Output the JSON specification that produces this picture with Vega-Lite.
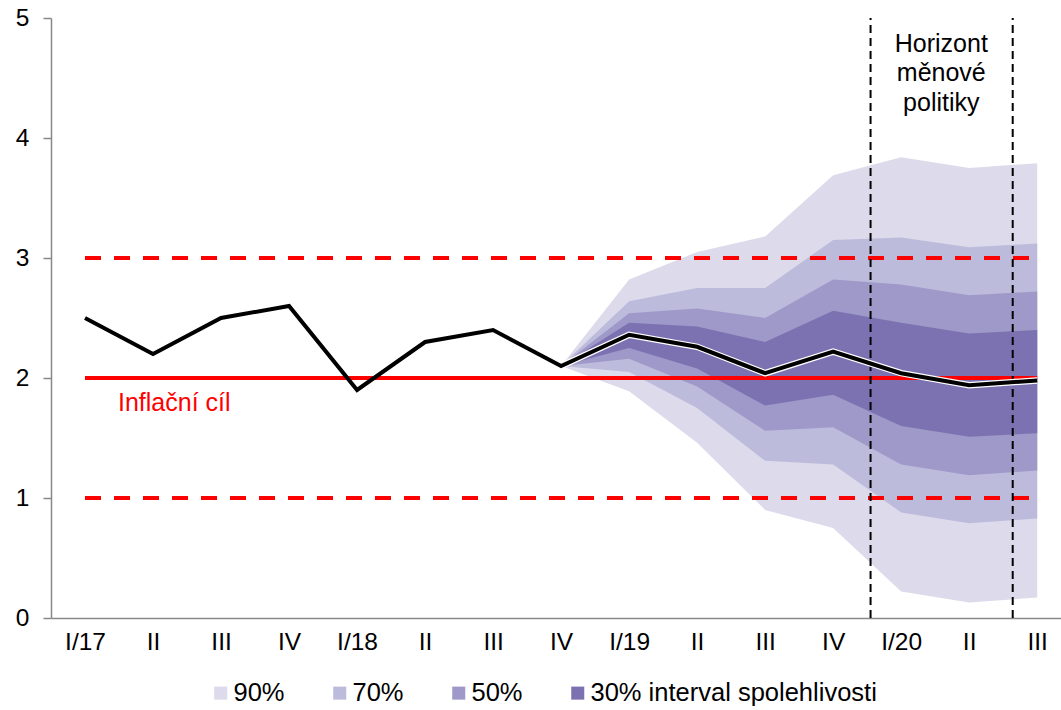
{
  "$schema": "https://vega.github.io/schema/vega-lite/v6.json",
  "width": 1010,
  "height": 600,
  "autosize": {"type": "none"},
  "padding": {"left": 51, "top": 18, "right": 0, "bottom": 92},
  "background": "white",
  "config": {
    "view": {"stroke": null},
    "font": "Liberation Sans",
    "axis": {"grid": false, "domainColor": "#888888", "domainWidth": 1.5, "labelColor": "black", "labelFontSize": 24.5, "labelFont": "Liberation Sans", "title": null}
  },
  "datasets": {
    "line": [
      {"i": 0, "v": 2.5}, {"i": 1, "v": 2.2}, {"i": 2, "v": 2.5}, {"i": 3, "v": 2.6},
      {"i": 4, "v": 1.9}, {"i": 5, "v": 2.3}, {"i": 6, "v": 2.4}, {"i": 7, "v": 2.1},
      {"i": 8, "v": 2.36}, {"i": 9, "v": 2.26}, {"i": 10, "v": 2.04}, {"i": 11, "v": 2.22},
      {"i": 12, "v": 2.04}, {"i": 13, "v": 1.94}, {"i": 14, "v": 1.98}
    ],
    "fan": [
      {"band": "90%", "i": 7, "lo": 2.1, "hi": 2.1},
      {"band": "90%", "i": 8, "lo": 1.89, "hi": 2.82},
      {"band": "90%", "i": 9, "lo": 1.46, "hi": 3.05},
      {"band": "90%", "i": 10, "lo": 0.9, "hi": 3.18},
      {"band": "90%", "i": 11, "lo": 0.75, "hi": 3.69},
      {"band": "90%", "i": 12, "lo": 0.22, "hi": 3.84},
      {"band": "90%", "i": 13, "lo": 0.13, "hi": 3.75},
      {"band": "90%", "i": 14, "lo": 0.17, "hi": 3.79},
      {"band": "70%", "i": 7, "lo": 2.1, "hi": 2.1},
      {"band": "70%", "i": 8, "lo": 2.05, "hi": 2.64},
      {"band": "70%", "i": 9, "lo": 1.75, "hi": 2.75},
      {"band": "70%", "i": 10, "lo": 1.31, "hi": 2.75},
      {"band": "70%", "i": 11, "lo": 1.28, "hi": 3.15},
      {"band": "70%", "i": 12, "lo": 0.88, "hi": 3.17},
      {"band": "70%", "i": 13, "lo": 0.79, "hi": 3.09},
      {"band": "70%", "i": 14, "lo": 0.83, "hi": 3.12},
      {"band": "50%", "i": 7, "lo": 2.1, "hi": 2.1},
      {"band": "50%", "i": 8, "lo": 2.16, "hi": 2.54},
      {"band": "50%", "i": 9, "lo": 1.93, "hi": 2.58},
      {"band": "50%", "i": 10, "lo": 1.56, "hi": 2.5},
      {"band": "50%", "i": 11, "lo": 1.59, "hi": 2.82},
      {"band": "50%", "i": 12, "lo": 1.28, "hi": 2.78},
      {"band": "50%", "i": 13, "lo": 1.19, "hi": 2.69},
      {"band": "50%", "i": 14, "lo": 1.23, "hi": 2.72},
      {"band": "30% interval spolehlivosti", "i": 7, "lo": 2.1, "hi": 2.1},
      {"band": "30% interval spolehlivosti", "i": 8, "lo": 2.25, "hi": 2.46},
      {"band": "30% interval spolehlivosti", "i": 9, "lo": 2.08, "hi": 2.43},
      {"band": "30% interval spolehlivosti", "i": 10, "lo": 1.77, "hi": 2.3},
      {"band": "30% interval spolehlivosti", "i": 11, "lo": 1.86, "hi": 2.56},
      {"band": "30% interval spolehlivosti", "i": 12, "lo": 1.6, "hi": 2.46},
      {"band": "30% interval spolehlivosti", "i": 13, "lo": 1.51, "hi": 2.37},
      {"band": "30% interval spolehlivosti", "i": 14, "lo": 1.54, "hi": 2.4}
    ]
  },
  "layer": [
    {
      "data": {"name": "fan"},
      "transform": [{"filter": "datum.band === '90%'"}],
      "mark": {"type": "area", "opacity": 1},
      "encoding": {
        "x": {"field": "i", "type": "quantitative", "scale": {"domain": [-0.5, 14.35], "nice": false, "zero": false},
              "axis": {"values": [0,1,2,3,4,5,6,7,8,9,10,11,12,13,14], "ticks": false, "labelPadding": 12,
                       "labelExpr": "['I/17','II','III','IV','I/18','II','III','IV','I/19','II','III','IV','I/20','II','III'][datum.value]"}},
        "y": {"field": "lo", "type": "quantitative", "scale": {"domain": [0, 5], "nice": false},
              "axis": {"values": [0,1,2,3,4,5], "format": "d", "tickSize": 8, "tickColor": "#888888", "tickWidth": 1.5, "labelPadding": 14}},
        "y2": {"field": "hi"},
        "color": {"field": "band", "type": "nominal",
                  "scale": {"domain": ["90%", "70%", "50%", "30% interval spolehlivosti"], "range": ["#dcdaeb", "#bcbbdc", "#9e99c8", "#7c72b2"]},
                  "legend": {"title": null, "orient": "none", "legendX": 157, "legendY": 662, "direction": "horizontal",
                             "symbolType": "square", "symbolSize": 170, "symbolStrokeWidth": 0, "labelFontSize": 25.5,
                             "labelColor": "black", "labelOffset": 0, "columnPadding": 42, "labelLimit": 400, "symbolOpacity": 1}}
      }
    },
    {
      "data": {"name": "fan"},
      "transform": [{"filter": "datum.band === '70%'"}],
      "mark": {"type": "area", "opacity": 1},
      "encoding": {
        "x": {"field": "i", "type": "quantitative"},
        "y": {"field": "lo", "type": "quantitative"},
        "y2": {"field": "hi"},
        "color": {"field": "band", "type": "nominal"}
      }
    },
    {
      "data": {"name": "fan"},
      "transform": [{"filter": "datum.band === '50%'"}],
      "mark": {"type": "area", "opacity": 1},
      "encoding": {
        "x": {"field": "i", "type": "quantitative"},
        "y": {"field": "lo", "type": "quantitative"},
        "y2": {"field": "hi"},
        "color": {"field": "band", "type": "nominal"}
      }
    },
    {
      "data": {"name": "fan"},
      "transform": [{"filter": "datum.band === '30% interval spolehlivosti'"}],
      "mark": {"type": "area", "opacity": 1},
      "encoding": {
        "x": {"field": "i", "type": "quantitative"},
        "y": {"field": "lo", "type": "quantitative"},
        "y2": {"field": "hi"},
        "color": {"field": "band", "type": "nominal"}
      }
    },
    {
      "data": {"values": [{"y": 1, "x0": 0, "x1": 14}, {"y": 3, "x0": 0, "x1": 14}]},
      "mark": {"type": "rule", "color": "#ff0000", "strokeWidth": 4, "strokeDash": [16, 13]},
      "encoding": {
        "x": {"field": "x0", "type": "quantitative"},
        "x2": {"field": "x1"},
        "y": {"field": "y", "type": "quantitative"}
      }
    },
    {
      "data": {"values": [{"y": 2, "x0": 0, "x1": 14}]},
      "mark": {"type": "rule", "color": "#ff0000", "strokeWidth": 4},
      "encoding": {
        "x": {"field": "x0", "type": "quantitative"},
        "x2": {"field": "x1"},
        "y": {"field": "y", "type": "quantitative"}
      }
    },
    {
      "data": {"values": [{"x": 11.55, "y0": 0, "y1": 5}, {"x": 13.64, "y0": 0, "y1": 5}]},
      "mark": {"type": "rule", "color": "black", "strokeWidth": 2, "strokeDash": [8, 5]},
      "encoding": {
        "x": {"field": "x", "type": "quantitative"},
        "y": {"field": "y0", "type": "quantitative"},
        "y2": {"field": "y1"}
      }
    },
    {
      "data": {"name": "line"},
      "transform": [{"filter": "datum.i >= 7"}],
      "mark": {"type": "line", "color": "white", "strokeWidth": 6.5, "strokeJoin": "miter"},
      "encoding": {
        "x": {"field": "i", "type": "quantitative"},
        "y": {"field": "v", "type": "quantitative"}
      }
    },
    {
      "data": {"name": "line"},
      "mark": {"type": "line", "color": "black", "strokeWidth": 4, "strokeJoin": "miter"},
      "encoding": {
        "x": {"field": "i", "type": "quantitative"},
        "y": {"field": "v", "type": "quantitative"}
      }
    },
    {
      "data": {"values": [{"x": 0.485, "y": 1.79, "t": "Inflační cíl"}]},
      "mark": {"type": "text", "align": "left", "baseline": "middle", "fontSize": 25, "color": "#ff0000"},
      "encoding": {
        "x": {"field": "x", "type": "quantitative"},
        "y": {"field": "y", "type": "quantitative"},
        "text": {"field": "t"}
      }
    },
    {
      "data": {"values": [{"x": 12.59, "y": 4.72, "t": "Horizont\nměnové\npolitiky"}]},
      "mark": {"type": "text", "align": "center", "baseline": "alphabetic", "fontSize": 25, "color": "black", "lineBreak": "\n", "lineHeight": 29.5},
      "encoding": {
        "x": {"field": "x", "type": "quantitative"},
        "y": {"field": "y", "type": "quantitative"},
        "text": {"field": "t"}
      }
    }
  ]
}
